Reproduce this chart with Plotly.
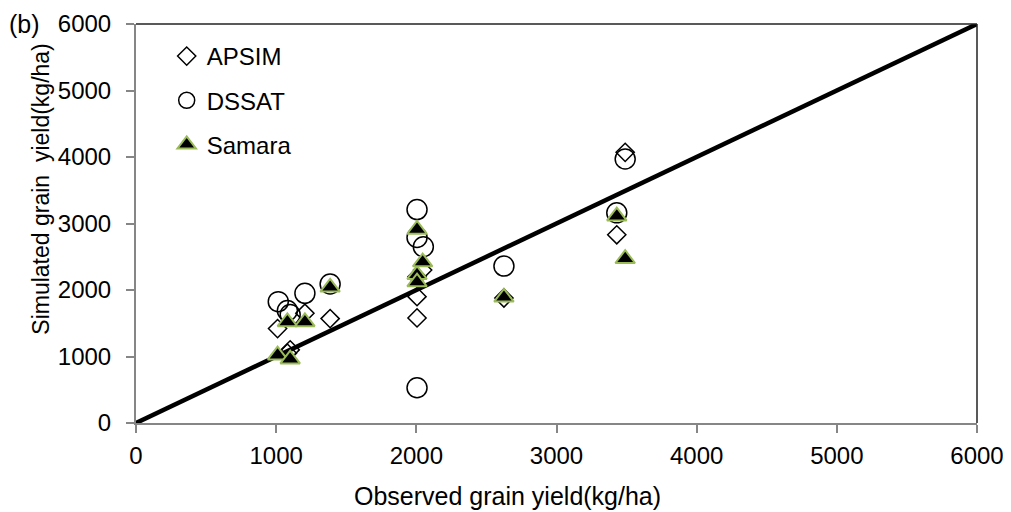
import plotly.graph_objects as go

# Observed vs simulated grain yield (kg/ha)
apsim_obs = [1010, 1080, 1100, 1205, 1385, 2005, 2005, 2005, 2045, 2625, 3430, 3490]
apsim_sim = [1420, 1050, 1100, 1650, 1570, 1900, 1580, 2200, 2300, 1880, 2830, 4070]

dssat_obs = [1015, 1080, 1100, 1205, 1385, 2005, 2005, 2005, 2050, 2625, 3430, 3490]
dssat_sim = [1825, 1690, 1630, 1950, 2090, 3210, 2790, 530, 2650, 2360, 3160, 3970]

samara_obs = [1010, 1080, 1100, 1205, 1385, 2005, 2005, 2005, 2045, 2625, 3430, 3490]
samara_sim = [1020, 1520, 960, 1520, 2040, 2910, 2230, 2120, 2420, 1890, 3110, 2470]

line_x = [0, 6000]
line_y = [0, 6000]

x_ticks = [0, 1000, 2000, 3000, 4000, 5000, 6000]
y_ticks = [0, 1000, 2000, 3000, 4000, 5000, 6000]

FONT = "Liberation Sans, Arial, sans-serif"
GRAY = "#868686"

fig = go.Figure()
fig.add_trace(go.Scatter(x=line_x, y=line_y, mode="lines",
                         line=dict(color="black", width=4.5), showlegend=False,
                         hoverinfo="skip"))
fig.add_trace(go.Scatter(x=apsim_obs, y=apsim_sim, mode="markers", name="APSIM",
                         legendgroup="a",
                         marker=dict(symbol="diamond-open", size=14, color="black",
                                     line=dict(color="black", width=1.5))))
fig.add_trace(go.Scatter(x=dssat_obs, y=dssat_sim, mode="markers", name="DSSAT",
                         legendgroup="d",
                         marker=dict(symbol="circle-open", size=20, color="black",
                                     line=dict(color="black", width=1.5))))
fig.add_trace(go.Scatter(x=samara_obs, y=samara_sim, mode="markers", name="Samara",
                         legendgroup="s",
                         marker=dict(symbol="triangle-up", size=17, color="black",
                                     line=dict(color="#9BBB59", width=2))))

fig.update_layout(
    width=1003, height=504,
    margin=dict(l=128, r=34, t=16, b=89, autoexpand=False),
    paper_bgcolor="white", plot_bgcolor="white",
    font=dict(family=FONT, size=24, color="black"),
    showlegend=True,
    legend=dict(x=0.0365, y=0.975, xanchor="left", yanchor="top",
                bgcolor="rgba(0,0,0,0)", font=dict(size=24),
                traceorder="grouped", tracegroupgap=10),
    xaxis=dict(range=[0, 6000], tickvals=x_ticks, ticks="outside", ticklen=8,
               tickcolor=GRAY, tickwidth=2, showline=True, linecolor=GRAY,
               linewidth=2, showgrid=False, zeroline=False, automargin=False,
               ticklabelstandoff=2, tickfont=dict(size=24)),
    yaxis=dict(range=[0, 6000], tickvals=y_ticks, ticks="outside", ticklen=8,
               tickcolor=GRAY, tickwidth=2, showline=True, linecolor=GRAY,
               linewidth=2, showgrid=False, zeroline=False, automargin=False,
               ticklabelstandoff=10, tickfont=dict(size=24)),
    shapes=[
        dict(type="line", xref="paper", yref="paper", x0=0, x1=1, y0=1, y1=1,
             line=dict(color="#222222", width=1.5)),
        dict(type="line", xref="paper", yref="paper", x0=1, x1=1, y0=0, y1=1,
             line=dict(color="#222222", width=1.5)),
    ],
    annotations=[
        dict(text="(b)", xref="paper", yref="paper", x=-0.153, y=1.0,
             xanchor="left", yanchor="middle", showarrow=False,
             font=dict(size=25)),
        dict(text="Simulated grain  yield(kg/ha)", xref="paper", yref="paper",
             x=-0.114, y=0.585, xanchor="center", yanchor="middle", textangle=-90,
             showarrow=False, font=dict(size=23)),
        dict(text="Observed grain yield(kg/ha)", xref="paper", yref="paper",
             x=0.442, y=-0.183, xanchor="center", yanchor="middle",
             showarrow=False, font=dict(size=25)),
    ],
)

fig.write_html("out.html")
